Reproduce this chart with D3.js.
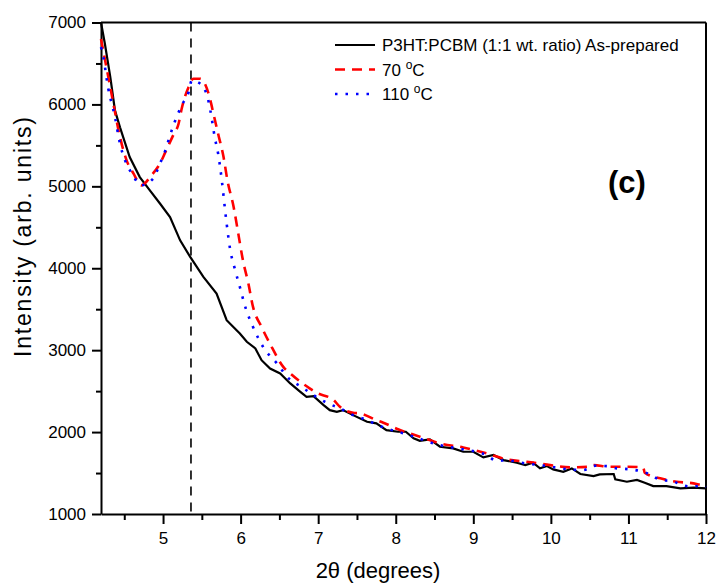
<!DOCTYPE html>
<html>
<head>
<meta charset="utf-8">
<script src="https://cdn.jsdelivr.net/npm/d3@7"></script>
<style>
  body { margin: 0; background: #fff; }
  svg { display: block; font-family: "Liberation Sans", Arial, sans-serif; }
</style>
</head>
<body>
<div id="chart"></div>
<script>
// two-theta (degrees) and intensity
const ttBlack = [4.20, 4.25, 4.32, 4.38, 4.445, 4.57, 4.70, 4.83, 4.96, 5.09, 5.22, 5.35, 5.52, 5.69, 5.82, 5.90, 5.99, 6.08, 6.19, 6.27, 6.38, 6.51, 6.64, 6.77, 6.85, 6.94, 7.07, 7.15, 7.24, 7.32, 7.45, 7.63, 7.75, 7.88, 8.03, 8.13, 8.23, 8.31, 8.44, 8.57, 8.74, 8.87, 9.00, 9.13, 9.26, 9.39, 9.56, 9.67, 9.77, 9.86, 9.95, 10.03, 10.16, 10.27, 10.38, 10.55, 10.63, 10.81, 10.83, 10.98, 11.11, 11.21, 11.32, 11.49, 11.67, 11.84, 12.00];
const intBlack = [7000, 6740, 6333, 5927, 5720, 5357, 5113, 4951, 4790, 4626, 4341, 4138, 3894, 3690, 3366, 3290, 3204, 3102, 3021, 2878, 2776, 2716, 2594, 2492, 2431, 2439, 2330, 2268, 2248, 2268, 2207, 2126, 2106, 2024, 2004, 2004, 1923, 1894, 1911, 1821, 1801, 1760, 1760, 1691, 1720, 1658, 1626, 1597, 1626, 1557, 1585, 1545, 1516, 1557, 1488, 1463, 1484, 1488, 1423, 1394, 1415, 1382, 1341, 1341, 1313, 1321, 1313];

const ttRed = [4.20, 4.27, 4.36, 4.445, 4.53, 4.62, 4.72, 4.85, 4.96, 5.03, 5.13, 5.20, 5.24, 5.33, 5.39, 5.48, 5.54, 5.61, 5.65, 5.71, 5.78, 5.83, 5.91, 5.97, 6.03, 6.10, 6.16, 6.27, 6.40, 6.55, 6.66, 6.89, 6.98, 7.20, 7.28, 7.45, 7.54, 7.75, 7.84, 8.03, 8.31, 8.57, 8.87, 9.17, 9.43, 9.69, 9.99, 10.25, 10.50, 10.55, 10.76, 10.99, 11.19, 11.21, 11.41, 11.62, 11.84, 12.00];
const intRed = [6800, 6455, 6009, 5602, 5317, 5154, 5012, 5134, 5277, 5418, 5622, 5764, 5947, 6212, 6313, 6313, 6252, 6049, 5886, 5642, 5357, 5073, 4748, 4423, 4097, 3813, 3528, 3284, 3040, 2796, 2700, 2533, 2480, 2390, 2309, 2236, 2228, 2146, 2114, 2035, 1943, 1862, 1813, 1740, 1667, 1638, 1597, 1569, 1577, 1597, 1577, 1577, 1569, 1504, 1435, 1394, 1374, 1333];

const ttBlue = [4.20, 4.23, 4.29, 4.38, 4.445, 4.51, 4.60, 4.72, 4.87, 4.96, 5.03, 5.09, 5.15, 5.24, 5.33, 5.37, 5.45, 5.56, 5.61, 5.67, 5.71, 5.76, 5.80, 5.82, 5.86, 5.93, 5.99, 6.06, 6.16, 6.29, 6.47, 6.62, 6.77, 6.94, 7.11, 7.28, 7.45, 7.63, 7.77, 7.95, 8.15, 8.35, 8.57, 8.87, 9.17, 9.30, 9.43, 9.69, 9.99, 10.12, 10.42, 10.57, 10.72, 10.85, 10.99, 11.15, 11.28, 11.41, 11.56, 11.67, 11.80, 11.95, 12.00];
const intBlue = [6700, 6577, 6212, 5845, 5520, 5317, 5154, 5012, 5093, 5277, 5439, 5622, 5785, 5988, 6151, 6293, 6272, 6130, 5927, 5581, 5399, 5053, 4707, 4545, 4260, 3976, 3772, 3528, 3284, 3040, 2837, 2655, 2561, 2451, 2358, 2289, 2207, 2146, 2085, 2024, 1970, 1905, 1840, 1790, 1720, 1650, 1655, 1615, 1580, 1557, 1537, 1589, 1585, 1557, 1548, 1524, 1484, 1415, 1402, 1362, 1333, 1345, 1330];

const seriesNames = ["P3HT:PCBM (1:1 wt. ratio) As-prepared", "70 ", "110 "];
const xTicks = [5, 6, 7, 8, 9, 10, 11, 12];
const xMinor = [4.5, 5.5, 6.5, 7.5, 8.5, 9.5, 10.5, 11.5];
const yTicks = [1000, 2000, 3000, 4000, 5000, 6000, 7000];
const yMinor = [1500, 2500, 3500, 4500, 5500, 6500];
const markerTheta = 5.36;

const W = 721, H = 585;
const svg = d3.select("#chart").append("svg")
    .attr("width", W)
    .attr("height", H);

const x = d3.scaleLinear().domain([4.2, 12]).range([101, 706]);
const y = d3.scaleLinear().domain([1000, 7000]).range([514, 22.5]);

// minor ticks first
svg.append("g")
    .attr("transform", "translate(0,514)")
    .call(d3.axisBottom(x).tickValues(xMinor).tickSize(6).tickFormat(""))
    .call(g => g.select(".domain").remove())
    .selectAll("line").attr("stroke-width", 2);
svg.append("g")
    .attr("transform", "translate(101,0)")
    .call(d3.axisLeft(y).tickValues(yMinor).tickSize(5).tickFormat(""))
    .call(g => g.select(".domain").remove())
    .selectAll("line").attr("stroke-width", 2);

// major axes
const xAxis = svg.append("g")
    .attr("transform", "translate(0,514)")
    .call(d3.axisBottom(x).tickValues(xTicks).tickSize(10).tickSizeOuter(0).tickPadding(8).tickFormat(d3.format("d")));
xAxis.selectAll("text").attr("font-size", 17).attr("font-family", "Liberation Sans, Arial, sans-serif").attr("fill", "#000");
xAxis.selectAll("line").attr("stroke-width", 2);
xAxis.select(".domain").attr("stroke-width", 2);

const yAxis = svg.append("g")
    .attr("transform", "translate(101,0)")
    .call(d3.axisLeft(y).tickValues(yTicks).tickSize(9).tickSizeOuter(0).tickPadding(6).tickFormat(d3.format("d")));
yAxis.selectAll("text").attr("font-size", 17).attr("font-family", "Liberation Sans, Arial, sans-serif").attr("fill", "#000");
yAxis.selectAll("line").attr("stroke-width", 2);
yAxis.select(".domain").attr("stroke-width", 2);

// top and right frame
svg.append("line").attr("x1", x(4.2)).attr("x2", x(12)).attr("y1", y(7000)).attr("y2", y(7000))
    .attr("stroke", "#000").attr("stroke-width", 2);
svg.append("line").attr("x1", x(12)).attr("x2", x(12)).attr("y1", y(7000)).attr("y2", y(1000))
    .attr("stroke", "#000").attr("stroke-width", 2);

// dashed marker line
svg.append("line")
    .attr("x1", x(markerTheta)).attr("x2", x(markerTheta))
    .attr("y1", y(7000)).attr("y2", y(1000))
    .attr("stroke", "#000").attr("stroke-width", 1.6)
    .attr("stroke-dasharray", "9,7");

const styles = [
    { color: "#000000", width: 2.2, dash: null, curve: d3.curveLinear },
    { color: "#ff0000", width: 2.6, dash: "10,7", curve: d3.curveMonotoneX },
    { color: "#0000ff", width: 2.6, dash: "2.5,8", curve: d3.curveMonotoneX }
];

const series = [
    d3.zip(ttBlack, intBlack),
    d3.zip(ttRed, intRed),
    d3.zip(ttBlue, intBlue)
];

svg.selectAll("path.curve")
    .data(series)
    .join("path")
    .attr("class", "curve")
    .attr("fill", "none")
    .attr("d", (d, i) => d3.line()
        .x(p => x(p[0]))
        .y(p => y(p[1]))
        .curve(styles[i].curve)(d))
    .attr("stroke", (d, i) => styles[i].color)
    .attr("stroke-width", (d, i) => styles[i].width)
    .attr("stroke-dasharray", (d, i) => styles[i].dash);

// legend
const legend = svg.append("g");
seriesNames.forEach((name, i) => {
    const ly = 45 + i * 24.5;
    legend.append("line")
        .attr("x1", 335).attr("x2", 375)
        .attr("y1", ly).attr("y2", ly)
        .attr("stroke", styles[i].color)
        .attr("stroke-width", styles[i].width)
        .attr("stroke-dasharray", styles[i].dash);
    const t = legend.append("text")
        .attr("x", 382).attr("y", ly + 6)
        .attr("font-size", 17)
        .text(name);
    if (i > 0) {
        t.append("tspan").attr("font-size", 12).attr("dy", -7).text("o");
        t.append("tspan").attr("dy", 7).text("C");
    }
});

// panel label
svg.append("text")
    .attr("x", 627).attr("y", 193)
    .attr("text-anchor", "middle")
    .attr("font-size", 31)
    .attr("font-weight", "bold")
    .text("(c)");

// axis titles
svg.append("text")
    .attr("x", 378).attr("y", 578)
    .attr("text-anchor", "middle")
    .attr("font-size", 22)
    .text("2θ (degrees)");

svg.append("text")
    .attr("transform", "translate(31,237) rotate(-90)")
    .attr("text-anchor", "middle")
    .attr("font-size", 23)
    .attr("textLength", 240)
    .attr("lengthAdjust", "spacing")
    .text("Intensity (arb. units)");
</script>
</body>
</html>
